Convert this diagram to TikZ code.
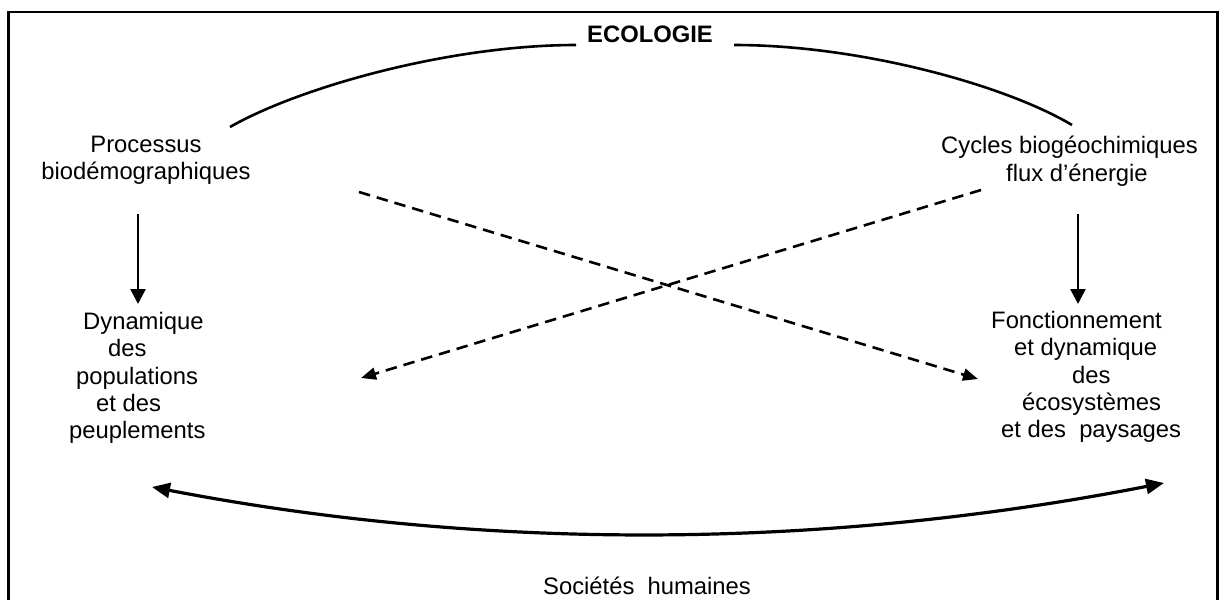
\documentclass[tikz,border=0pt]{standalone}
\usepackage{fontspec}
\setmainfont{Liberation Sans}
\usetikzlibrary{arrows.meta}
\begin{document}
\begin{tikzpicture}[x=1pt,y=-1pt,
  txt/.style={inner sep=0pt, font=\fontsize{23.8}{27.3}\selectfont, align=left, anchor=north west},
  solidarrow/.style={line width=2.5pt, -{Triangle[length=15pt,width=15pt]}},
  dasharrow/.style={line width=2.6pt, dash pattern=on 11.5pt off 7pt, -{Triangle[length=15pt,width=12pt]}},
  arcline/.style={line width=2.6pt},
  bigarrow/.style={line width=3.2pt, {Triangle[length=18pt,width=15pt]}-{Triangle[length=18pt,width=15pt]}}]
\useasboundingbox (0,0) rectangle (1219,600);
\fill[white] (0,0) rectangle (1219,600);
\draw[line width=2.7pt] (8.5,650) -- (8.5,12) -- (1217.5,12) -- (1217.5,650);
% texts
\node[txt, font=\bfseries\fontsize{23.8}{27.3}\selectfont, anchor=base] (eco) at (650,42) {ECOLOGIE};
\node[txt, align=center, anchor=north] (proc) at (146,136) {Processus\\biodémographiques};
\node[txt] (dyn) at (69,312) {\hspace*{14pt}Dynamique\\\hspace*{39pt}des\\\hspace*{7pt}populations\\\hspace*{27pt}et des\\peuplements};
\node[txt] (cyc) at (941,136) {Cycles biogéochimiques\\\hspace*{65pt}flux d’énergie};
\node[txt] (fon) at (991,311) {Fonctionnement\\\hspace*{23pt}et dynamique\\\hspace*{81pt}des\\\hspace*{31pt}écosystèmes\\\hspace*{10pt}et des\ \ paysages};
\node[txt, anchor=base] (soc) at (647,594) {Sociétés\ \ humaines};
% connector end points
\coordinate (arcL) at (230,127);
\coordinate (ecoL) at (576,45);
\coordinate (ecoR) at (734,45);
\coordinate (arcR) at (1072,125);
\coordinate (p1) at (138,214);
\coordinate (d1) at (138,304);
\coordinate (c1) at (1078,214);
\coordinate (f1) at (1078,304);
\coordinate (ds1) at (359,192);
\coordinate (de1) at (978,379);
\coordinate (ds2) at (981,190);
\coordinate (de2) at (361,378);
\coordinate (bl) at (152,487);
\coordinate (br) at (1164,483);
% connectors
\draw[arcline] (arcL) .. controls (300,87) and (450,45) .. (ecoL);
\draw[arcline] (ecoR) .. controls (860,45) and (1005,85) .. (arcR);
\draw[solidarrow] (p1) -- (d1);
\draw[solidarrow] (c1) -- (f1);
\draw[dasharrow] (ds1) -- (de1);
\draw[dasharrow] (ds2) -- (de2);
\draw[bigarrow] (bl) .. controls (484,551) and (821,550) .. (br);
\end{tikzpicture}
\end{document}
